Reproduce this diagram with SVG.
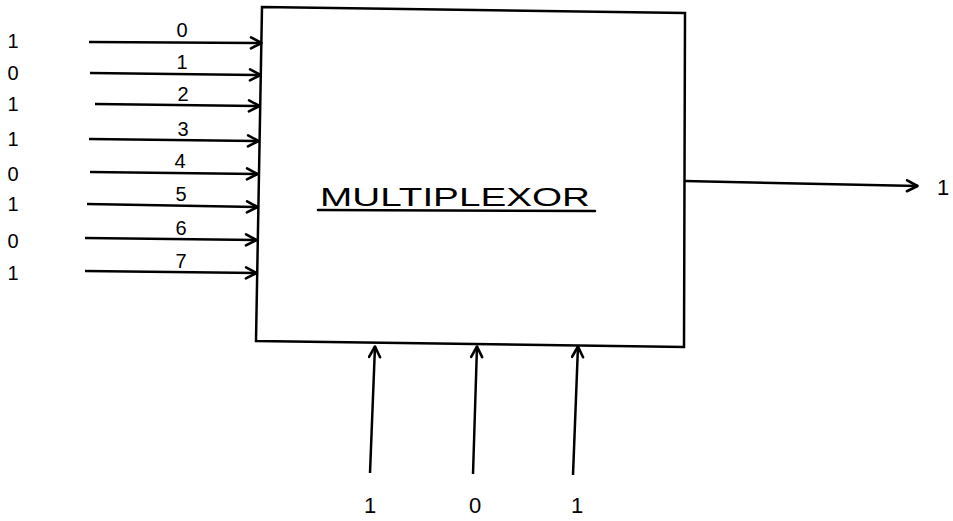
<svg xmlns="http://www.w3.org/2000/svg" width="953" height="521" viewBox="0 0 953 521">
<defs>
<marker id="arr" viewBox="0 0 14 14" refX="13" refY="7" markerWidth="14" markerHeight="14" markerUnits="userSpaceOnUse" orient="auto">
<polyline points="2,1.5 12.5,7 2,12.5" fill="none" stroke="#000" stroke-width="2.6" stroke-linejoin="round" stroke-linecap="round"/>
</marker>
</defs>
<style>
.w{stroke:#000;stroke-width:2.5;fill:none;stroke-linecap:round}
.a{stroke:#000;stroke-width:2.5;fill:none;marker-end:url(#arr)}
.t{font-family:"Liberation Sans",Arial,sans-serif;font-size:22px;fill:#000;text-anchor:middle}
.s{font-family:"Liberation Sans",Arial,sans-serif;font-size:20px;fill:#000;text-anchor:middle}
</style>
<rect width="953" height="521" fill="#fff"/>
<g id="mux">
<polygon class="w" points="262,7 685,13 684,347 256,341"/>
<text x="455" y="206" font-family="Liberation Sans,Arial,sans-serif" font-size="26" text-anchor="middle" textLength="270" lengthAdjust="spacingAndGlyphs">MULTIPLEXOR</text>
<line class="w" x1="318" y1="210" x2="595" y2="211"/>
</g>
<g id="inputs">
<text class="s" x="13" y="48">1</text>
<text class="s" x="13" y="80">0</text>
<text class="s" x="13" y="111">1</text>
<text class="s" x="13" y="146">1</text>
<text class="s" x="13" y="181">0</text>
<text class="s" x="13" y="211">1</text>
<text class="s" x="13" y="248">0</text>
<text class="s" x="13" y="280">1</text>
</g>
<g id="input-labels">
<text class="s" x="182" y="37">0</text>
<text class="s" x="182" y="69">1</text>
<text class="s" x="183" y="101">2</text>
<text class="s" x="183" y="136">3</text>
<text class="s" x="180" y="168">4</text>
<text class="s" x="181" y="201">5</text>
<text class="s" x="181" y="235">6</text>
<text class="s" x="181" y="268">7</text>
</g>
<g id="select-labels">
<text class="t" x="370" y="513">1</text>
<text class="t" x="475" y="513">0</text>
<text class="t" x="577" y="513">1</text>
</g>
<g id="output-label">
<text class="t" x="943" y="195">1</text>
</g>
<g id="connectors">
<line class="a" x1="89" y1="42" x2="262" y2="43"/>
<line class="a" x1="90" y1="73" x2="261" y2="75"/>
<line class="a" x1="95" y1="104" x2="260" y2="106"/>
<line class="a" x1="89" y1="139" x2="259" y2="141"/>
<line class="a" x1="90" y1="172" x2="258" y2="174"/>
<line class="a" x1="87" y1="204" x2="258" y2="207"/>
<line class="a" x1="85" y1="238" x2="257" y2="240"/>
<line class="a" x1="85" y1="271" x2="257" y2="273"/>
<line class="a" x1="684" y1="181" x2="918" y2="186"/>
<line class="a" x1="370" y1="473" x2="375" y2="346"/>
<line class="a" x1="473" y1="474" x2="477" y2="346"/>
<line class="a" x1="573" y1="475" x2="578" y2="346"/>
</g>
</svg>
